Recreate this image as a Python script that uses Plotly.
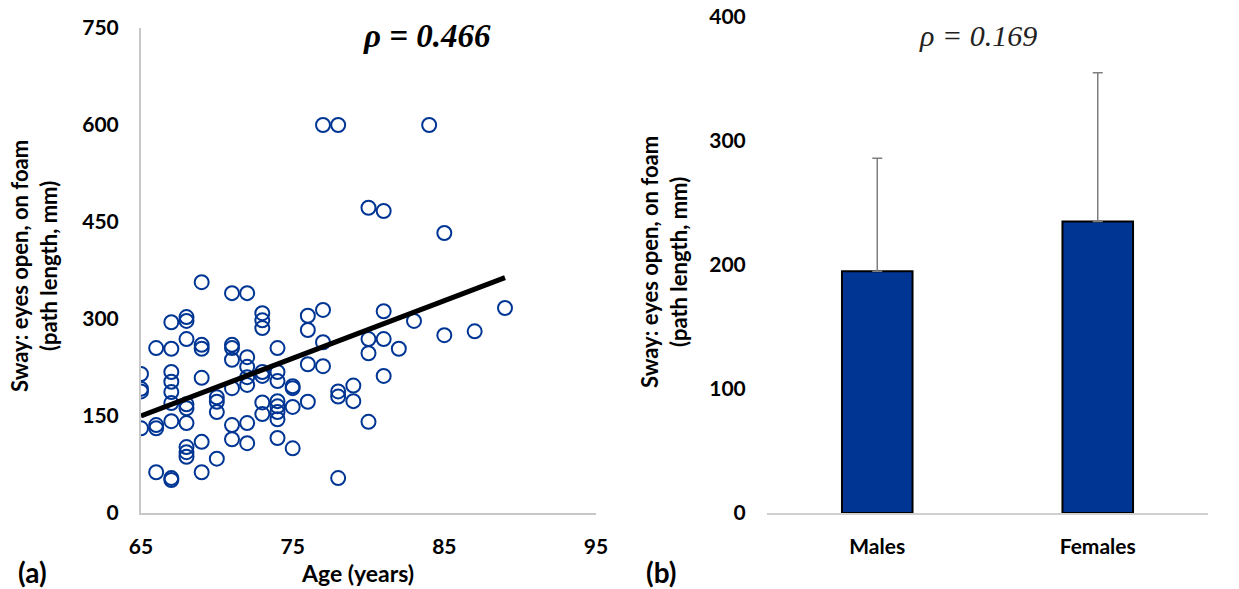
import plotly.graph_objects as go

# ---------- Panel (a) data: age vs sway ----------
age = [65, 65, 65, 65,
       66, 66, 66, 66,
       67, 67, 67, 67, 67, 67, 67, 67, 67,
       68, 68, 68, 68, 68, 68, 68, 68, 68,
       69, 69, 69, 69, 69, 69,
       70, 70, 70, 70,
       71, 71, 71, 71, 71, 71, 71,
       72, 72, 72, 72, 72, 72, 72,
       73, 73, 73, 73, 73, 73, 73,
       74, 74, 74, 74, 74, 74, 74, 74,
       75, 75, 75, 75,
       76, 76, 76, 76,
       77, 77, 77, 77,
       78, 78, 78, 78,
       79, 79,
       80, 80, 80, 80,
       81, 81, 81, 81,
       82, 83, 84, 85, 85, 87, 89]
sway = [215, 192, 188, 131,
        255, 136, 131, 63,
        295, 254, 218, 203, 187, 170, 142, 54, 51,
        303, 297, 269, 168, 162, 139, 102, 94, 87,
        357, 260, 254, 209, 110, 63,
        179, 172, 156, 84,
        340, 260, 255, 237, 193, 136, 114,
        340, 241, 226, 210, 198, 139, 108,
        309, 298, 286, 218, 212, 171, 153,
        255, 218, 204, 173, 165, 156, 145, 116,
        196, 193, 164, 100,
        305, 283, 230, 172,
        600, 314, 264, 227,
        600, 188, 180, 54,
        197, 173,
        472, 269, 247, 141,
        467, 312, 269, 212,
        254, 297, 600, 433, 275, 281, 317]
trend_age = [65, 89]
trend_sway = [150, 364]
x_ticks_a = [65, 75, 85, 95]
y_ticks_a = [0, 150, 300, 450, 600, 750]

# ---------- Panel (b) data: sex means ----------
groups = ["Males", "Females"]
means = [195, 235]
sds = [91, 120]
y_ticks_b = [0, 100, 200, 300, 400]

W, H = 1239, 589
def px(x): return x / W
def py(y): return 1 - y / H

BLUE = "#003594"
TICKFONT = dict(family="Lato", size=21, color="black", weight="bold")
CLEAR = "rgba(0,0,0,0)"

fig = go.Figure()

fig.add_trace(go.Scatter(
    x=age, y=sway, mode="markers",
    marker=dict(symbol="circle-open", size=14, color=BLUE, line=dict(width=2, color=BLUE)),
    xaxis="x", yaxis="y", showlegend=False))
fig.add_trace(go.Scatter(
    x=trend_age, y=trend_sway, mode="lines",
    line=dict(color="black", width=5),
    xaxis="x", yaxis="y", showlegend=False))

fig.add_trace(go.Bar(
    x=groups, y=means,
    marker=dict(color=BLUE, line=dict(color="black", width=2)),
    error_y=dict(type="data", symmetric=False, array=sds, arrayminus=[0, 0],
                 color="#7f7f7f", thickness=1.5, width=5),
    width=0.32,
    xaxis="x2", yaxis="y2", showlegend=False))

fig.update_layout(
    width=W, height=H,
    margin=dict(l=0, r=0, t=0, b=0, autoexpand=False),
    paper_bgcolor="white", plot_bgcolor="white",
    xaxis=dict(domain=[px(141), px(596)], range=[65, 95], tickvals=x_ticks_a,
               showgrid=False, zeroline=False, showline=True, linecolor="#c8c8c8", linewidth=2,
               ticks="outside", ticklen=14, tickcolor=CLEAR, tickfont=TICKFONT,
               anchor="y", automargin=False),
    yaxis=dict(domain=[py(513), py(28)], range=[0, 750], tickvals=y_ticks_a,
               showgrid=False, zeroline=False, showline=True, linecolor="#c8c8c8", linewidth=2,
               ticks="outside", ticklen=16, tickcolor=CLEAR, tickfont=TICKFONT,
               anchor="x", automargin=False),
    xaxis2=dict(domain=[px(767), px(1208)], showgrid=False, zeroline=False,
                showline=True, linecolor="#d0d0d0", linewidth=1.5,
                ticks="outside", ticklen=14, tickcolor=CLEAR, tickfont=TICKFONT,
                anchor="y2", automargin=False),
    yaxis2=dict(domain=[py(513), py(17)], range=[0, 400], tickvals=y_ticks_b,
                showgrid=False, zeroline=False, showline=False,
                ticks="outside", ticklen=16, tickcolor=CLEAR, tickfont=TICKFONT,
                anchor="x2", automargin=False),
)

def note(x, y, text, size, family="Lato", bold=True, color="black", angle=0):
    f = dict(family=family, size=size, color=color)
    if bold:
        f["weight"] = "bold"
    return dict(x=px(x), y=py(y), xref="paper", yref="paper", showarrow=False,
                xanchor="center", yanchor="middle", text=text, textangle=angle, font=f)

ytitle = "Sway: eyes open, on foam<br>(path length, mm)"
ann = [
    note(427, 36, "<b><i>ρ = 0.466</i></b>", 33, family="Liberation Serif", bold=False),
    note(978, 35, "<i>ρ = 0.169</i>", 30, family="Liberation Serif", bold=False, color="#222222"),
    note(34, 266, ytitle, 22, angle=-90),
    note(664, 262, ytitle, 22, angle=-90),
    note(357, 573, "Age (years)", 23),
    note(32, 572, "(a)", 28),
    note(661, 572, "(b)", 28),
]
fig.update_layout(annotations=ann)

fig.write_html("out.html", config={"displayModeBar": False},
               post_script="document.body.style.margin='0';")
